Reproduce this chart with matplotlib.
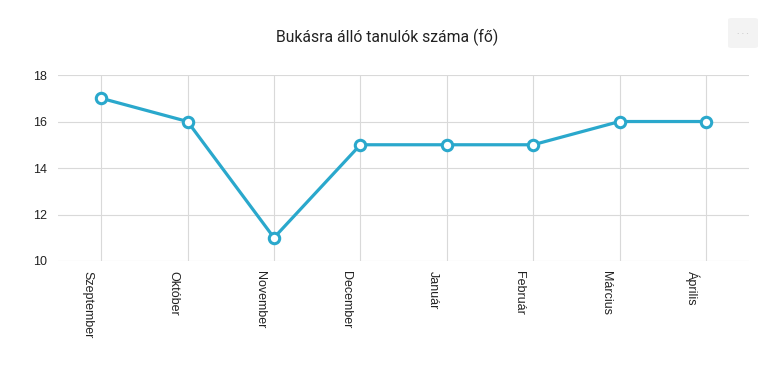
import matplotlib
matplotlib.use('Agg')
import matplotlib.pyplot as plt
import matplotlib.transforms as mtransforms
from matplotlib.patches import FancyBboxPatch

months = ['Szeptember', 'Október', 'November', 'December', 'Január', 'Február', 'Március', 'Április']
students = [17, 16, 11, 15, 15, 15, 16, 16]
y_ticks = [10, 12, 14, 16, 18]

LINE = '#2aa8cc'
GRID = '#d9d9d9'

plt.rcParams['font.family'] = ['Roboto', 'DejaVu Sans']

fig = plt.figure(figsize=(7.74, 3.71), dpi=100)
ax = fig.add_axes([0.0749, 0.2965, 0.893, 0.5013])

x = list(range(len(months)))
ax.plot(x, students, '-', color=LINE, linewidth=2.3, marker='o', markersize=7.5,
        markerfacecolor='white', markeredgecolor=LINE, markeredgewidth=2.2, zorder=3,
        clip_on=False)

ax.set_xlim(-0.5, len(months) - 0.5)
ax.set_ylim(10, 18)
ax.set_xticks(x)
ax.set_xticklabels(months, rotation=270, fontsize=9, color='#222222', va='top', ha='center',
                   family=['Liberation Sans', 'DejaVu Sans'])
ax.set_yticks(y_ticks)
ax.set_yticklabels([str(v) for v in y_ticks], fontsize=9, color='#222222',
                   family=['Liberation Sans', 'DejaVu Sans'])
ax.tick_params(axis='both', length=0)
ax.tick_params(axis='x', pad=7)
ax.tick_params(axis='y', pad=8)
ax.grid(True, color=GRID, linewidth=0.8)
ax.set_axisbelow(True)
for s in ax.spines.values():
    s.set_visible(False)

# category labels sit a little left of their grid line
shift = mtransforms.ScaledTranslation(-14 / 100, 0, fig.dpi_scale_trans)
for lbl in ax.get_xticklabels():
    lbl.set_transform(lbl.get_transform() + shift)

fig.text(0.5, 0.9, 'Bukásra álló tanulók száma (fő)', ha='center', va='center',
         fontsize=11.3, color='#222222')

# menu button in the corner
btn = FancyBboxPatch((728 / 774, 1 - 48 / 371), 30 / 774, 30 / 371,
                     boxstyle='round,pad=0,rounding_size=0.005',
                     transform=fig.transFigure, facecolor='#f3f3f3', edgecolor='none')
fig.patches.append(btn)
fig.text(743 / 774, 1 - 33 / 371, '· · ·', ha='center', va='center', fontsize=6,
         color='#c4c4c4', fontweight='bold')

fig.savefig('out.png', dpi=100)
